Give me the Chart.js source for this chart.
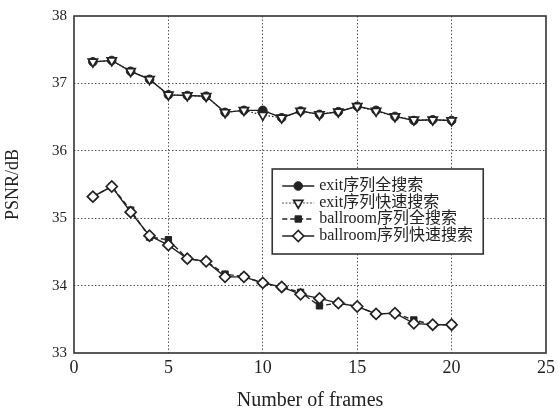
<!DOCTYPE html>
<html>
<head>
<meta charset="utf-8">
<script src="https://cdn.jsdelivr.net/npm/chart.js@4.4.1/dist/chart.umd.min.js"></script>
<style>
  html, body { margin: 0; padding: 0; background: #fff; }
  #wrap { width: 559px; height: 413px; }
</style>
</head>
<body>
<div id="wrap"><canvas id="c" width="559" height="413"></canvas></div>
<script>
// Frame indices
const frames = [1,2,3,4,5,6,7,8,9,10,11,12,13,14,15,16,17,18,19,20];

// PSNR (dB) per frame
const exitFull      = [37.32,37.34,37.18,37.06,36.83,36.82,36.81,36.57,36.60,36.60,36.49,36.59,36.54,36.58,36.66,36.60,36.51,36.45,36.46,36.45];
const exitFast      = [37.32,37.34,37.18,37.06,36.83,36.82,36.81,36.57,36.60,36.53,36.49,36.59,36.54,36.58,36.66,36.59,36.51,36.46,36.46,36.45];
const ballroomFull  = [35.32,35.47,35.12,34.72,34.68,34.40,34.36,34.17,34.13,34.04,33.98,33.90,33.70,33.74,33.69,33.58,33.59,33.49,33.42,33.42];
const ballroomFast  = [35.32,35.47,35.09,34.74,34.60,34.40,34.36,34.13,34.13,34.04,33.98,33.87,33.81,33.74,33.69,33.58,33.59,33.44,33.42,33.42];

const seriesNames = ['exit序列全搜索','exit序列快速搜索','ballroom序列全搜索','ballroom序列快速搜索'];
const xTicks = [0,5,10,15,20,25];
const yTicks = [33,34,35,36,37,38];

const FONT = '"Liberation Serif", "Times New Roman", "Noto Sans CJK SC", serif';
const INK = '#222';

function pts(vals) { return frames.map((f, i) => ({ x: f, y: vals[i] })); }

// Open-marker (fast search) series are drawn above the filled ones
const datasets = [
  { label: seriesNames[0], data: pts(exitFull), order: 2, borderColor: INK, borderWidth: 1.4, borderDash: [],
    pointStyle: 'circle', pointRadius: 4.3, pointBackgroundColor: INK, pointBorderColor: INK, pointBorderWidth: 1 },
  { label: seriesNames[1], data: pts(exitFast), order: 1, borderColor: INK, borderWidth: 1.2, borderDash: [1.5, 2],
    pointStyle: 'triangle', rotation: 180, pointRadius: 5.3, pointBackgroundColor: '#fff', pointBorderColor: INK, pointBorderWidth: 1.7 },
  { label: seriesNames[2], data: pts(ballroomFull), order: 2, borderColor: INK, borderWidth: 1.4, borderDash: [5, 3],
    pointStyle: 'rect', pointRadius: 4.5, pointBackgroundColor: INK, pointBorderColor: INK, pointBorderWidth: 1 },
  { label: seriesNames[3], data: pts(ballroomFast), order: 1, borderColor: INK, borderWidth: 1.4, borderDash: [],
    pointStyle: 'rectRot', pointRadius: 5.5, pointBackgroundColor: '#fff', pointBorderColor: INK, pointBorderWidth: 1.7 }
];
datasets.forEach(d => { d.fill = false; d.tension = 0; d.showLine = true; });

// Solid frame around the plot area
const framePlugin = {
  id: 'frame',
  beforeDatasetsDraw(chart) {
    const { ctx, chartArea: a } = chart;
    ctx.save();
    ctx.strokeStyle = '#333';
    ctx.lineWidth = 1.6;
    ctx.setLineDash([]);
    ctx.strokeRect(a.left, a.top, a.right - a.left, a.bottom - a.top);
    ctx.restore();
  }
};

// Boxed legend inside the plot
const boxLegend = {
  id: 'boxLegend',
  afterDatasetsDraw(chart) {
    const { ctx } = chart;
    const x0 = chart.scales.x.getPixelForValue(10.5);
    const y0 = chart.scales.y.getPixelForValue(35.73);
    const w = 211, h = 85;
    ctx.save();
    ctx.fillStyle = '#fff';
    ctx.fillRect(x0, y0, w, h);
    ctx.strokeStyle = '#333';
    ctx.lineWidth = 1.6;
    ctx.setLineDash([]);
    ctx.strokeRect(x0, y0, w, h);
    const rows = [17, 34, 50, 67];
    chart.data.datasets.forEach((ds, i) => {
      const y = y0 + rows[i];
      ctx.strokeStyle = ds.borderColor;
      ctx.lineWidth = ds.borderWidth;
      ctx.setLineDash(ds.borderDash || []);
      ctx.beginPath();
      ctx.moveTo(x0 + 10, y);
      ctx.lineTo(x0 + 42, y);
      ctx.stroke();
      ctx.setLineDash([]);
      ctx.fillStyle = ds.pointBackgroundColor;
      ctx.strokeStyle = ds.pointBorderColor;
      ctx.lineWidth = ds.pointBorderWidth;
      Chart.helpers.drawPoint(ctx, {
        pointStyle: ds.pointStyle, rotation: ds.rotation || 0, radius: ds.pointRadius,
        borderWidth: ds.pointBorderWidth
      }, x0 + 26, y);
      ctx.fillStyle = INK;
      ctx.font = '16px ' + FONT;
      ctx.textBaseline = 'middle';
      ctx.textAlign = 'left';
      ctx.fillText(ds.label, x0 + 47, y);
    });
    ctx.restore();
  }
};

new Chart(document.getElementById('c'), {
  type: 'line',
  data: { datasets },
  options: {
    responsive: false,
    animation: false,
    layout: { padding: { left: 0, right: 11, top: 11, bottom: 0 } },
    plugins: { legend: { display: false }, tooltip: { enabled: false } },
    scales: {
      x: {
        type: 'linear', min: 0, max: 25,
        afterBuildTicks(s) { s.ticks = xTicks.map(v => ({ value: v })); },
        afterFit(s) { s.height = 60; },
        grid: {
          drawTicks: false,
          color: c => (c.tick && (c.tick.value === 0 || c.tick.value === 25)) ? 'rgba(0,0,0,0)' : '#555',
          lineWidth: 1
        },
        border: { display: false, dash: [1.5, 2] },
        ticks: { color: INK, font: { family: FONT, size: 18 }, padding: 4, maxRotation: 0 },
        title: { display: true, text: 'Number of frames', color: INK, font: { family: FONT, size: 20 }, padding: { top: 4, bottom: 0 } }
      },
      y: {
        type: 'linear', min: 33, max: 38,
        afterBuildTicks(s) { s.ticks = yTicks.map(v => ({ value: v })); },
        afterFit(s) { s.width = 74; },
        grid: {
          drawTicks: false,
          color: c => (c.tick && (c.tick.value === 33 || c.tick.value === 38)) ? 'rgba(0,0,0,0)' : '#555',
          lineWidth: 1
        },
        border: { display: false, dash: [1.5, 2] },
        ticks: { color: INK, font: { family: FONT, size: 15 }, padding: 7 },
        title: { display: true, text: 'PSNR/dB', color: INK, font: { family: FONT, size: 18 }, padding: { top: 2, bottom: 0 } }
      }
    }
  },
  plugins: [framePlugin, boxLegend]
});
</script>
</body>
</html>
